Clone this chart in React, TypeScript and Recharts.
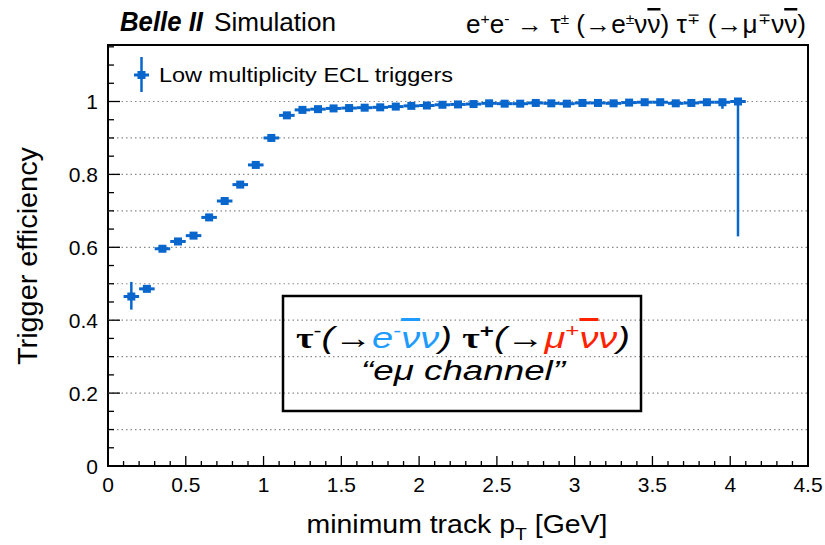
import React from 'react';
import {
  ScatterChart,
  Scatter,
  XAxis,
  YAxis,
  ErrorBar,
  ReferenceLine,
  ReferenceArea,
} from 'recharts';

// bins of 0.1 GeV in minimum track pT
const binCenters = [
  0.15, 0.25, 0.35, 0.45, 0.55, 0.65, 0.75, 0.85, 0.95, 1.05,
  1.15, 1.25, 1.35, 1.45, 1.55, 1.65, 1.75, 1.85, 1.95, 2.05,
  2.15, 2.25, 2.35, 2.45, 2.55, 2.65, 2.75, 2.85, 2.95, 3.05,
  3.15, 3.25, 3.35, 3.45, 3.55, 3.65, 3.75, 3.85, 3.95, 4.05,
];
const efficiency = [
  0.465, 0.486, 0.596, 0.616, 0.632, 0.682, 0.727, 0.772, 0.826, 0.9,
  0.962, 0.977, 0.979, 0.981, 0.982, 0.983, 0.984, 0.986, 0.988, 0.989,
  0.991, 0.992, 0.993, 0.995, 0.994, 0.994, 0.996, 0.995, 0.994, 0.996,
  0.996, 0.995, 0.997, 0.998, 0.998, 0.995, 0.996, 0.998, 0.998, 1.0,
];
const errLow = [
  0.036, 0.006, 0.004, 0.004, 0.004, 0.004, 0.004, 0.004, 0.003, 0.003,
  0.003, 0.002, 0.002, 0.002, 0.002, 0.002, 0.002, 0.002, 0.002, 0.002,
  0.002, 0.002, 0.002, 0.002, 0.002, 0.002, 0.002, 0.002, 0.002, 0.002,
  0.002, 0.003, 0.003, 0.003, 0.003, 0.004, 0.004, 0.005, 0.018, 0.37,
];
const errHigh = [
  0.04, 0.006, 0.004, 0.004, 0.004, 0.004, 0.004, 0.004, 0.003, 0.003,
  0.003, 0.002, 0.002, 0.002, 0.002, 0.002, 0.002, 0.002, 0.002, 0.002,
  0.002, 0.002, 0.002, 0.002, 0.002, 0.002, 0.002, 0.002, 0.002, 0.002,
  0.002, 0.002, 0.002, 0.002, 0.002, 0.002, 0.002, 0.002, 0.002, 0.0,
];
const binHalfWidth = 0.05;

const xTicks = [
  0, 0.1, 0.2, 0.3, 0.4, 0.5, 0.6, 0.7, 0.8, 0.9, 1, 1.1, 1.2, 1.3, 1.4, 1.5,
  1.6, 1.7, 1.8, 1.9, 2, 2.1, 2.2, 2.3, 2.4, 2.5, 2.6, 2.7, 2.8, 2.9, 3, 3.1,
  3.2, 3.3, 3.4, 3.5, 3.6, 3.7, 3.8, 3.9, 4, 4.1, 4.2, 4.3, 4.4, 4.5,
];
const yTicks = [
  0, 0.05, 0.1, 0.15, 0.2, 0.25, 0.3, 0.35, 0.4, 0.45, 0.5, 0.55, 0.6,
  0.65, 0.7, 0.75, 0.8, 0.85, 0.9, 0.95, 1, 1.05, 1.1, 1.15,
];
const gridLevels = [0.1, 0.2, 0.3, 0.4, 0.5, 0.6, 0.7, 0.8, 0.9, 1.0];

const BLUE = '#0866cc';
const FONT = "'Liberation Sans', Arial, Helvetica, sans-serif";

const data = binCenters.map((x, i) => ({
  x,
  y: efficiency[i],
  xErr: binHalfWidth,
  yErr: [errLow[i], errHigh[i]],
}));

const isMultiple = (v: number, step: number) =>
  Math.abs(v / step - Math.round(v / step)) < 1e-6;
const fmt = (v: number) => String(Math.round(v * 10) / 10);

const XTick = (props: any) => {
  const { x, y, payload } = props;
  const major = isMultiple(payload.value, 0.5);
  return (
    <g>
      <line x1={x} x2={x} y1={y} y2={y - (major ? 10 : 5)} stroke="#000" strokeWidth={1.3} />
      {major && (
        <text x={x} y={y + 26} textAnchor="middle" fontSize={21} fontFamily={FONT} fill="#000">
          {fmt(payload.value)}
        </text>
      )}
    </g>
  );
};

const YTick = (props: any) => {
  const { x, y, payload } = props;
  const major = isMultiple(payload.value, 0.2);
  return (
    <g>
      <line x1={x} x2={x + (major ? 12 : 6)} y1={y} y2={y} stroke="#000" strokeWidth={1.3} />
      {major && (
        <text x={x - 10} y={y + 7.5} textAnchor="end" fontSize={21} fontFamily={FONT} fill="#000">
          {fmt(payload.value)}
        </text>
      )}
    </g>
  );
};

const Marker = (props: any) => {
  const { cx, cy } = props;
  return <rect x={cx - 4} y={cy - 4} width={8} height={8} fill={BLUE} />;
};

export default function App() {
  return (
    <div style={{ position: 'absolute', left: 0, top: 0, width: 825, height: 545, background: '#fff' }}>
      <ScatterChart width={825} height={545} margin={{ top: 45, right: 17, bottom: 0, left: 0 }}>
        <XAxis
          type="number"
          dataKey="x"
          domain={[0, 4.5]}
          ticks={xTicks}
          interval={0}
          height={79}
          tickSize={0}
          tickMargin={0}
          axisLine={false}
          tickLine={false}
          tick={<XTick />}
          allowDataOverflow
        />
        <YAxis
          type="number"
          dataKey="y"
          domain={[0, 1.155]}
          ticks={yTicks}
          interval={0}
          width={108}
          tickSize={0}
          tickMargin={0}
          axisLine={false}
          tickLine={false}
          tick={<YTick />}
          allowDataOverflow
        />
        {gridLevels.map((g) => (
          <ReferenceLine key={g} y={g} stroke="#8a8a8a" strokeWidth={1.2} strokeDasharray="1.5 3" />
        ))}
        <ReferenceArea x1={0} x2={4.5} y1={0} y2={1.155} fill="none" fillOpacity={0} stroke="#000" strokeWidth={2} />
        <Scatter data={data} fill={BLUE} shape={<Marker />} isAnimationActive={false}>
          <ErrorBar dataKey="xErr" direction="x" width={0} stroke={BLUE} strokeWidth={3} isAnimationActive={false} />
          <ErrorBar dataKey="yErr" direction="y" width={0} stroke={BLUE} strokeWidth={2.5} isAnimationActive={false} />
        </Scatter>
      </ScatterChart>

      <svg
        width={825}
        height={545}
        style={{ position: 'absolute', left: 0, top: 0, pointerEvents: 'none' }}
        fontFamily={FONT}
      >
        {/* header */}
        <text x={120} y={31} fontSize={27} fontWeight="bold" fontStyle="italic" textLength={83} lengthAdjust="spacingAndGlyphs">
          Belle II
        </text>
        <text x={214} y={31} fontSize={26} textLength={122} lengthAdjust="spacingAndGlyphs">
          Simulation
        </text>
        <text x={466} y={33} fontSize={25} textLength={340} lengthAdjust="spacingAndGlyphs">
          e<tspan dy={-9} fontSize={15}>+</tspan>
          <tspan dy={9}>e</tspan>
          <tspan dy={-9} fontSize={15}>-</tspan>
          <tspan dy={9}> → τ</tspan>
          <tspan dy={-9} fontSize={15}>±</tspan>
          <tspan dy={9}> (→e</tspan>
          <tspan dy={-9} fontSize={15}>±</tspan>
          <tspan dy={9}>ν</tspan>
          <tspan textDecoration="overline">ν</tspan>
          <tspan>) τ</tspan>
          <tspan dy={-9} fontSize={15}>∓</tspan>
          <tspan dy={9}> (→μ</tspan>
          <tspan dy={-9} fontSize={15}>∓</tspan>
          <tspan dy={9}>ν</tspan>
          <tspan textDecoration="overline">ν</tspan>
          <tspan>)</tspan>
        </text>

        {/* legend */}
        <line x1={141.5} x2={141.5} y1={57} y2={92} stroke={BLUE} strokeWidth={2.5} />
        <line x1={134} x2={149} y1={75} y2={75} stroke={BLUE} strokeWidth={3} />
        <rect x={137.5} y={71} width={8} height={8} fill={BLUE} />
        <text x={159} y={82} fontSize={21} textLength={294} lengthAdjust="spacingAndGlyphs">
          Low multiplicity ECL triggers
        </text>

        {/* axis titles */}
        <text
          transform="translate(37,256) rotate(-90)"
          textAnchor="middle"
          fontSize={27}
          textLength={218}
          lengthAdjust="spacingAndGlyphs"
        >
          Trigger efficiency
        </text>
        <text x={457} y={533} textAnchor="middle" fontSize={25} textLength={301} lengthAdjust="spacingAndGlyphs">
          minimum track p<tspan dy={7} fontSize={17}>T</tspan>
          <tspan dy={-7}> [GeV]</tspan>
        </text>

        {/* annotation box */}
        <rect x={283} y={296} width={358} height={115} fill="none" stroke="#000" strokeWidth={2.5} />
        <text x={463} y={348} textAnchor="middle" fontSize={30} textLength={334} lengthAdjust="spacingAndGlyphs">
          <tspan fontFamily="'Liberation Serif', serif" fontWeight="bold">τ</tspan>
          <tspan dy={-11} fontSize={19}>-</tspan>
          <tspan dy={11} fontStyle="italic">(→</tspan>
          <tspan fontStyle="italic" fill="#1e9bff">e</tspan>
          <tspan dy={-11} fontSize={19} fill="#1e9bff">-</tspan>
          <tspan dy={11} fontStyle="italic" fill="#1e9bff" textDecoration="overline">ν</tspan>
          <tspan fontStyle="italic" fill="#1e9bff">ν</tspan>
          <tspan fontStyle="italic">) </tspan>
          <tspan fontFamily="'Liberation Serif', serif" fontWeight="bold">τ</tspan>
          <tspan dy={-11} fontSize={19} fontWeight="bold">+</tspan>
          <tspan dy={11} fontStyle="italic">(→</tspan>
          <tspan fontStyle="italic" fill="#ff2200">μ</tspan>
          <tspan dy={-11} fontSize={19} fill="#ff2200">+</tspan>
          <tspan dy={11} fontStyle="italic" fill="#ff2200" textDecoration="overline">ν</tspan>
          <tspan fontStyle="italic" fill="#ff2200">ν</tspan>
          <tspan fontStyle="italic">)</tspan>
        </text>
        <text x={463} y={380} textAnchor="middle" fontSize={27} fontStyle="italic" textLength={204} lengthAdjust="spacingAndGlyphs">
          “eμ channel”
        </text>
      </svg>
    </div>
  );
}
